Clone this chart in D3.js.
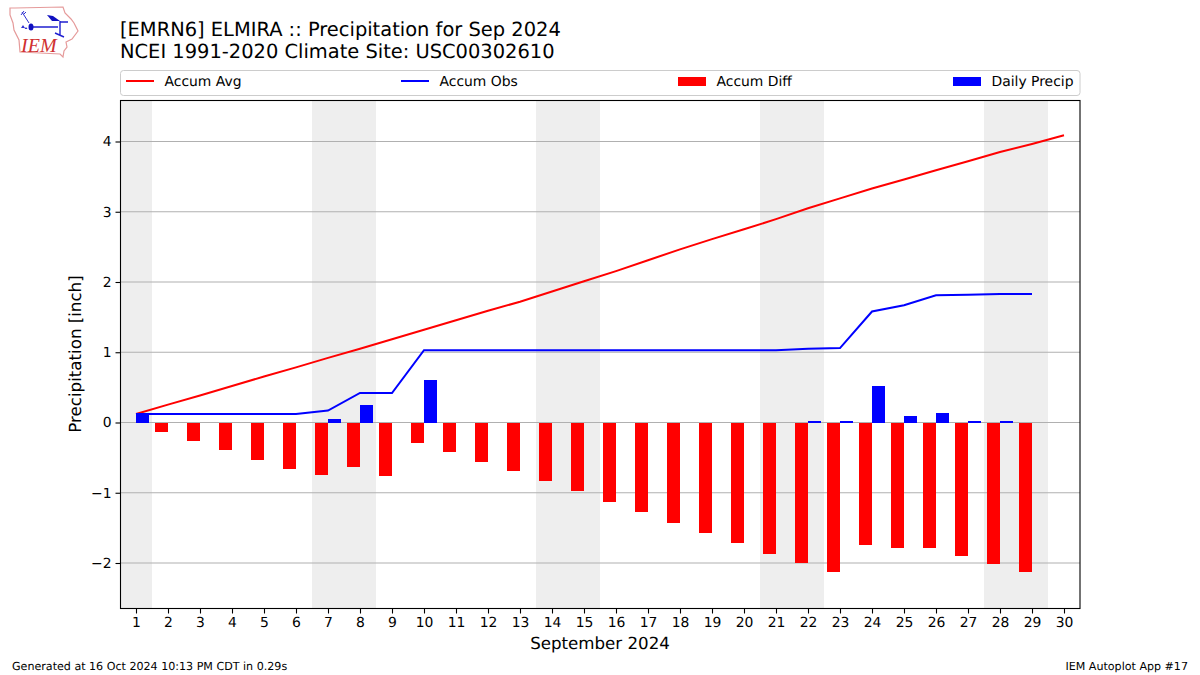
<!DOCTYPE html>
<html><head><meta charset="utf-8">
<script src="https://cdn.jsdelivr.net/npm/d3@7/dist/d3.min.js"></script>
<style>
html,body{margin:0;padding:0;background:#fff}
svg{display:block}
text{font-family:"DejaVu Sans",sans-serif;fill:#000;text-rendering:geometricPrecision}
</style></head><body>
<svg id="c" width="1200" height="675"></svg>
<script>
const days = d3.range(1, 31);
const accumAvg = [0.12,0.255,0.385,0.52,0.655,0.785,0.92,1.05,1.185,1.32,1.455,1.59,1.72,1.865,2.01,2.155,2.31,2.465,2.61,2.75,2.895,3.05,3.19,3.33,3.46,3.59,3.72,3.85,3.965,4.09];
const accumObs = [0.12,0.12,0.12,0.12,0.12,0.12,0.17,0.42,0.42,1.03,1.03,1.03,1.03,1.03,1.03,1.03,1.03,1.03,1.03,1.03,1.03,1.05,1.06,1.58,1.67,1.81,1.82,1.83,1.83];
const accumDiff = [-0.005,-0.135,-0.265,-0.39,-0.535,-0.665,-0.75,-0.63,-0.765,-0.29,-0.425,-0.56,-0.69,-0.835,-0.98,-1.125,-1.28,-1.435,-1.58,-1.72,-1.865,-2.0,-2.13,-1.75,-1.79,-1.78,-1.9,-2.02,-2.135];
const dailyPrecip = [0.12,0,0,0,0,0,0.05,0.25,0,0.61,0,0,0,0,0,0,0,0,0,0,0,0.015,0.015,0.52,0.09,0.14,0.015,0.015,0];
const weekendSpans = [[0.5,1.5],[6.5,8.5],[13.5,15.5],[20.5,22.5],[27.5,29.5]];
const yTicks = [-2,-1,0,1,2,3,4];
const titleLines = ["[EMRN6] ELMIRA :: Precipitation for Sep 2024","NCEI 1991-2020 Climate Site: USC00302610"];
const legendItems = [
  {label:"Accum Avg",color:"#ff0000",kind:"line"},
  {label:"Accum Obs",color:"#0000ff",kind:"line"},
  {label:"Accum Diff",color:"#ff0000",kind:"bar"},
  {label:"Daily Precip",color:"#0000ff",kind:"bar"}];
const footLeft = "Generated at 16 Oct 2024 10:13 PM CDT in 0.29s";
const footRight = "IEM Autoplot App #17";
const xLabel = "September 2024", yLabel = "Precipitation [inch]";

const L=120,R=1080,T=100,B=608;
const svg=d3.select("#c");
const x=d3.scaleLinear().domain([0.5,30.5]).range([L,R]);
const y=d3.scaleLinear().domain([4,0]).range([141.5,422.5]);
const barW=x(1.4)-x(1);

// weekend shading
svg.append("g").selectAll("rect").data(weekendSpans).join("rect")
  .attr("x",d=>x(d[0])).attr("width",d=>x(d[1])-x(d[0]))
  .attr("y",T).attr("height",B-T).attr("fill","#eeeeee").attr("shape-rendering","crispEdges");
// grid
svg.append("g").selectAll("line").data(yTicks).join("line")
  .attr("x1",L).attr("x2",R).attr("y1",d=>y(d)).attr("y2",d=>y(d))
  .attr("stroke","#b0b0b0").attr("stroke-width",1.1);
// bars
svg.append("g").attr("shape-rendering","crispEdges").selectAll("rect").data(accumDiff).join("rect")
  .attr("x",(d,i)=>x(days[i])-barW).attr("width",barW)
  .attr("y",y(0)).attr("height",d=>y(d)-y(0)).attr("fill","#ff0000");
svg.append("g").attr("shape-rendering","crispEdges").selectAll("rect").data(dailyPrecip).join("rect")
  .attr("x",(d,i)=>x(days[i])).attr("width",barW)
  .attr("y",d=>y(d)).attr("height",d=>y(0)-y(d)).attr("fill","#0000ff");
// lines
const ln=d3.line().x((d,i)=>x(days[i])).y(d=>y(d));
svg.append("path").attr("d",ln(accumAvg)).attr("fill","none").attr("stroke","#ff0000").attr("stroke-width",2);
svg.append("path").attr("d",ln(accumObs)).attr("fill","none").attr("stroke","#0000ff").attr("stroke-width",2);
// frame
svg.append("rect").attr("x",L+0.5).attr("y",T+0.5).attr("width",R-L-0.5).attr("height",B-T)
  .attr("fill","none").attr("stroke","#000").attr("stroke-width",1.1);
// axes
const ax=svg.append("g").attr("transform",`translate(0,${B+0.5})`)
  .call(d3.axisBottom(x).tickValues(days).tickFormat(d3.format("d")).tickSize(5).tickPadding(4));
ax.select(".domain").remove();
const ay=svg.append("g").attr("transform",`translate(${L+0.5},0)`)
  .call(d3.axisLeft(y).tickValues(yTicks).tickFormat(d=>d<0?"\u2212"+(-d):d).tickSize(5).tickPadding(4));
ay.select(".domain").remove();
svg.selectAll(".tick text").style("font-family",'"DejaVu Sans"').style("font-size","13.9px").attr("fill","#000");
svg.selectAll(".tick line").attr("stroke","#000").attr("stroke-width",1.1);
// labels
svg.append("text").attr("x",600).attr("y",649).attr("text-anchor","middle").style("font-size","16.67px").text(xLabel);
svg.append("text").attr("transform","translate(81,354) rotate(-90)").attr("text-anchor","middle").style("font-size","16.67px").text(yLabel);
titleLines.forEach((t,i)=>svg.append("text").attr("x",120).attr("y",[36,58][i]).style("font-size","19.44px").text(t));
svg.append("text").attr("x",12).attr("y",670).style("font-size","11.1px").text(footLeft);
svg.append("text").attr("x",1188).attr("y",670).attr("text-anchor","end").style("font-size","11.1px").text(footRight);
// legend
svg.append("rect").attr("x",120.5).attr("y",70.5).attr("width",959.5).attr("height",25).attr("rx",3)
  .attr("fill","#fff").attr("stroke","#cccccc");
const legX=[126,401,678,953];
legendItems.forEach((it,i)=>{
  if(it.kind==="line") svg.append("line").attr("x1",legX[i]).attr("x2",legX[i]+28).attr("y1",81).attr("y2",81).attr("stroke",it.color).attr("stroke-width",2);
  else svg.append("rect").attr("x",legX[i]).attr("y",77).attr("width",28).attr("height",9).attr("fill",it.color);
  svg.append("text").attr("x",legX[i]+38.5).attr("y",86.4).style("font-size","13.9px").text(it.label);
});
// logo
const logo=svg.append("g");
logo.append("path").attr("d","M10 8 L15 8 L63 7 L65 13 L71 19 L74 23 L78 31 L72 39 L66 42 L67 47 L64 51 L63 57 L60 54 L20 52 L19 40 L14 30 L13 23 L10 15 Z")
  .attr("fill","#fff").attr("stroke","#e59a9a").attr("stroke-width",1.2);
logo.append("path").attr("d","M31 27 H58 M60 22 H68 M60 21 V36 M55 33 L64 37").attr("stroke","#2020d0").attr("stroke-width",1.4).attr("fill","none");
logo.append("path").attr("d","M47 15 L53 16 L60 21 L52 21 Z").attr("fill","#1010c0");
logo.append("ellipse").attr("cx",31).attr("cy",27).attr("rx",2.5).attr("ry",3.5).attr("fill","#1010c0");
logo.append("path").attr("d","M22 12 L29 23 M21 15 L24 11 M24 14 L26 12").attr("stroke","#3030d0").attr("stroke-width",1).attr("fill","none");
logo.append("path").attr("d","M23 25 l2 3 h-4 z M26 27 l1.5 2 h-3 z").attr("fill","#3030d0");
logo.append("text").attr("x",21).attr("y",52).style("font-family",'"Liberation Serif"').style("font-style","italic").style("font-size","20px").style("fill","#d03030").text("IEM");
</script>
</body></html>
